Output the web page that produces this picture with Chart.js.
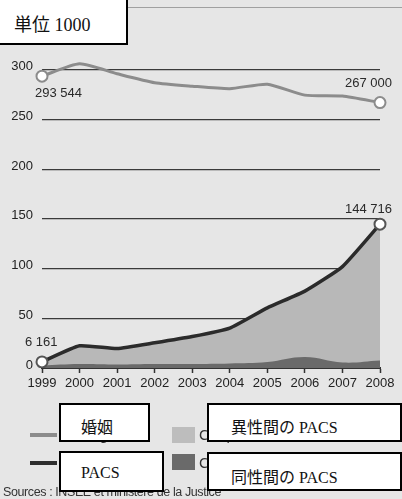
<!DOCTYPE html>
<html>
<head>
<meta charset="utf-8">
<script src="https://cdn.jsdelivr.net/npm/chart.js@4.4.1/dist/chart.umd.min.js"></script>
<style>
  html, body { margin: 0; padding: 0; background: #e6e6e6; }
  #wrap { position: relative; width: 402px; height: 499px; overflow: hidden; }
  #myChart { position: absolute; left: 0; top: 0; }
  .topline { position: absolute; left: 0; top: 7px; width: 402px; height: 1px; background: #a0a0a0; }
  .box { position: absolute; background: #fff; border: 2px solid #000; box-sizing: border-box;
         font-family: "Liberation Serif", "Noto Sans CJK JP", serif; color: #111; font-size: 16px; }
  .swatch { position: absolute; }
  .fr { position: absolute; font-family: "Liberation Sans", Arial, sans-serif; font-size: 15px; color: #333; white-space: nowrap; }
  .src { position: absolute; left: 3px; top: 485px; font-family: "Liberation Sans", Arial, sans-serif;
         font-size: 12.5px; letter-spacing: -0.4px; color: #333; white-space: nowrap; }
</style>
</head>
<body>
<div id="wrap">
  <canvas id="myChart" width="402" height="499"></canvas>
  <div class="topline"></div>

  <!-- legend swatches + original legend text -->
  <div class="swatch" style="left:30px;top:433px;width:27px;height:4px;background:#8c8c8c"></div>
  <div class="swatch" style="left:30px;top:461px;width:27px;height:4px;background:#2e2e2e"></div>
  <div class="swatch" style="left:172px;top:427px;width:23px;height:16px;background:#bdbdbd"></div>
  <div class="swatch" style="left:172px;top:454px;width:23px;height:16px;background:#6a6a6a"></div>
  <div class="fr" style="left:62px;top:426px">Mariages</div>
  <div class="fr" style="left:62px;top:454px">Pacs</div>
  <div class="fr" style="left:199px;top:426px">Couples de sexe différent</div>
  <div class="fr" style="left:199px;top:454px">Couples de même sexe</div>
  <div class="src">Sources : INSEE et ministère de la Justice</div>

  <!-- label boxes -->
  <div class="box" style="left:-2px;top:-2px;width:130px;height:47px;font-size:18px;padding:10px 0 0 14px">単位 1000</div>
  <div class="box" style="left:59px;top:403px;width:91px;height:39px;padding:9px 0 0 20px">婚姻</div>
  <div class="box" style="left:59px;top:451px;width:105px;height:41px;padding:11px 0 0 20px">PACS</div>
  <div class="box" style="left:207px;top:403px;width:195px;height:39px;padding:9px 0 0 22px">異性間の PACS</div>
  <div class="box" style="left:207px;top:452px;width:195px;height:39px;padding:10px 0 0 22px">同性間の PACS</div>
</div>

<script>
// values in thousands
var years = ['1999', '2000', '2001', '2002', '2003', '2004', '2005', '2006', '2007', '2008'];
var marriages = [293.544, 306, 296, 287, 283.5, 281, 285.5, 274.5, 273.5, 267.0];
var pacsTotal = [6.161, 22.3, 19.6, 25.3, 31.6, 40.1, 60.5, 77.3, 102, 144.716];
var pacsSameSex = [2.5, 4, 3.5, 4, 4, 4.5, 6, 11, 5.5, 7.5];
var yTicks = [0, 50, 100, 150, 200, 250, 300];

var last = years.length - 1;

function fmt(v) {
    return Math.round(v * 1000).toString().replace(/\B(?=(\d{3})+(?!\d))/g, ' ');
}
function endPoints(ctx) {
    return (ctx.dataIndex === 0 || ctx.dataIndex === last) ? 5.5 : 0;
}

// value labels at both ends of the two lines
var endLabels = {
    id: 'endLabels',
    afterDatasetsDraw: function(chart) {
        var c = chart.ctx;
        var items = [
            {ds: 1, i: 0, dx: -7, dy: 17, align: 'left'},
            {ds: 1, i: last, dx: 12, dy: -19, align: 'right'},
            {ds: 0, i: 0, dx: -17, dy: -19, align: 'left'},
            {ds: 0, i: last, dx: 12, dy: -15, align: 'right'}
        ];
        c.save();
        c.font = '13px "Liberation Sans", Arial, sans-serif';
        c.fillStyle = '#2a2a2a';
        c.textBaseline = 'middle';
        items.forEach(function(it) {
            var pt = chart.getDatasetMeta(it.ds).data[it.i];
            var v = chart.data.datasets[it.ds].data[it.i];
            c.textAlign = it.align;
            c.fillText(fmt(v), pt.x + it.dx, pt.y + it.dy);
        });
        c.restore();
    }
};

var ctx = document.getElementById('myChart').getContext('2d');
var chart = new Chart(ctx, {
    type: 'line',
    data: {
        labels: years,
        datasets: [{
            label: 'PACS',
            data: pacsTotal,
            borderColor: '#2b2b2b',
            borderWidth: 3.5,
            tension: 0.15,
            fill: false,
            pointRadius: endPoints,
            pointBackgroundColor: '#ffffff',
            pointBorderColor: '#555555',
            pointBorderWidth: 2
        }, {
            label: 'Mariages',
            data: marriages,
            borderColor: '#8c8c8c',
            borderWidth: 3,
            tension: 0.2,
            fill: false,
            pointRadius: endPoints,
            pointBackgroundColor: '#ffffff',
            pointBorderColor: '#8c8c8c',
            pointBorderWidth: 2
        }, {
            label: 'Pacs de même sexe',
            data: pacsSameSex,
            borderWidth: 0,
            borderColor: 'rgba(0,0,0,0)',
            backgroundColor: '#6a6a6a',
            tension: 0.4,
            fill: 'origin',
            pointRadius: 0
        }, {
            label: 'Pacs de sexe différent',
            data: pacsTotal,
            borderWidth: 0,
            borderColor: 'rgba(0,0,0,0)',
            backgroundColor: '#b8b8b8',
            tension: 0.15,
            fill: 'origin',
            pointRadius: 0
        }]
    },
    options: {
        responsive: false,
        devicePixelRatio: 1,
        animation: false,
        layout: {
            padding: {left: 0, right: 22, top: 30, bottom: 101}
        },
        plugins: {
            legend: {display: false},
            tooltip: {enabled: false}
        },
        scales: {
            x: {
                offset: false,
                afterFit: function(axis) { axis.height = 30; },
                grid: {
                    drawOnChartArea: false,
                    drawTicks: true,
                    tickLength: 5,
                    tickWidth: 1.5,
                    tickColor: '#333'
                },
                border: {display: true, color: '#333', width: 2},
                ticks: {
                    padding: 3,
                    maxRotation: 0,
                    autoSkip: false,
                    color: '#222',
                    font: {family: '"Liberation Sans", Arial, sans-serif', size: 13}
                }
            },
            y: {
                min: 0,
                max: 340,
                afterFit: function(axis) { axis.width = 42; },
                afterBuildTicks: function(axis) {
                    axis.ticks = yTicks.map(function(v) { return {value: v}; });
                },
                grid: {
                    drawTicks: false,
                    color: '#3a3a3a',
                    lineWidth: 1.2
                },
                border: {display: false},
                ticks: {
                    padding: 9,
                    labelOffset: -3,
                    color: '#222',
                    font: {family: '"Liberation Sans", Arial, sans-serif', size: 13}
                }
            }
        }
    },
    plugins: [endLabels]
});
</script>
</body>
</html>
